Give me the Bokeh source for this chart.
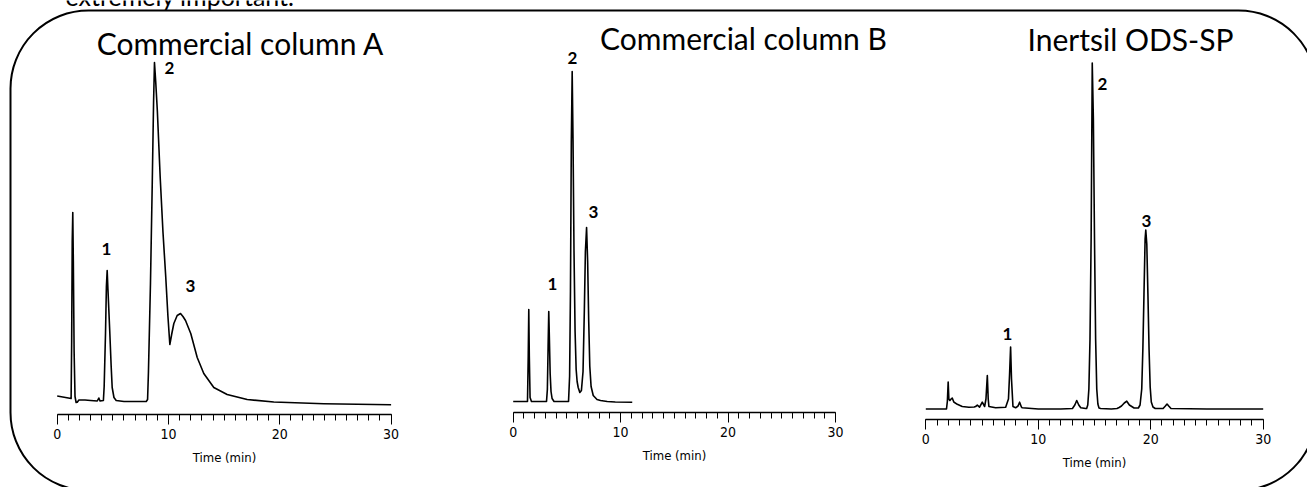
from bokeh.plotting import figure
from bokeh.models import Range1d, LinearAxis, SingleIntervalTicker, BoxAnnotation, ColumnDataSource
from bokeh.core.properties import value
from bokeh.embed import file_html
from bokeh.resources import INLINE

# ---------------- data (time in min, response in arbitrary units) ----------------
# Commercial column A
tA = [0, 0.5, 1.0, 1.25, 1.30, 1.35, 1.40, 1.45, 1.52, 1.60,
      1.70, 1.80, 1.95, 2.5, 3.0, 3.6, 3.74, 3.85, 4.15, 4.22,
      4.34, 4.42, 4.49, 4.56, 4.73, 4.85, 4.94, 5.1, 5.3, 6.0,
      7.0, 8.0, 8.12, 8.2, 8.38, 8.54, 8.66, 8.74, 8.85, 9.0,
      9.25, 9.5, 9.75, 9.95, 10.12, 10.3, 10.48, 10.78, 11.08, 11.3,
      11.53, 12.0, 12.58, 13.17, 14.07, 15.27, 17.07, 19.46, 23.95, 30.0]
sA = [5.5, 4.5, 3.5, 3, 60, 160, 189, 140, 50, 5,
      -1, -0.7, 1.5, 1.5, 1, 0.5, 3.5, 0.5, 1, 15,
      68, 115, 131, 112, 68, 35, 14, 4, 1, 0,
      0, 0, 2, 30, 118, 218, 300, 339, 320, 290,
      225, 170, 125, 85, 57, 68, 78, 86, 88, 85,
      81, 68, 44, 28, 14, 7, 2, -0.5, -2.3, -3.3]

# Commercial column B
tB = [0, 0.5, 1.0, 1.33, 1.40, 1.45, 1.50, 1.57, 1.70, 2.5,
      3.10, 3.18, 3.25, 3.31, 3.37, 3.44, 3.52, 3.62, 3.8, 4.5,
      5.15, 5.25, 5.33, 5.41, 5.49, 5.57, 5.66, 5.76, 5.86, 5.95,
      6.05, 6.2, 6.35, 6.5, 6.62, 6.72, 6.83, 6.93, 7.03, 7.13,
      7.25, 7.45, 7.8, 8.13, 8.75, 9.5, 11.08]
sB = [0, 0, 0, 0, 45, 92, 45, 4, 0, 0,
      0, 12, 55, 90, 62, 28, 10, 3, 0, 0,
      0, 25, 110, 260, 330, 260, 150, 70, 32, 20,
      14, 9, 11, 30, 90, 150, 174, 140, 80, 35,
      15, 6, 2, 1, 0, -0.5, -0.7]

# Inertsil ODS-SP
tC = [0, 1.0, 1.84, 1.92, 1.99, 2.05, 2.14, 2.25, 2.35, 2.49,
      2.80, 3.24, 3.83, 4.3, 4.43, 4.58, 4.78, 5.02, 5.23, 5.35,
      5.47, 5.55, 5.61, 6.21, 7.10, 7.35, 7.45, 7.54, 7.62, 7.75,
      7.99, 8.2, 8.34, 8.5, 8.58, 10.0, 12.0, 13.04, 13.25, 13.42,
      13.6, 13.78, 14.22, 14.30, 14.40, 14.50, 14.60, 14.70, 14.80, 14.90,
      15.00, 15.10, 15.20, 15.30, 15.40, 15.55, 16.5, 17.0, 17.19, 17.4,
      17.65, 17.87, 18.1, 18.52, 18.9, 19.05, 19.2, 19.3, 19.4, 19.5,
      19.56, 19.65, 19.75, 19.85, 19.95, 20.05, 20.2, 20.4, 21.1, 21.3,
      21.45, 21.6, 21.8, 25.0, 30.0]
sC = [0, 0, 0, 8, 27, 10, 8.5, 10, 11, 7,
      4.7, 2.5, 1.8, 2, 2.5, 3.8, 1.8, 6.8, 2.5, 10,
      33.5, 10, 2.5, 1.2, 1.8, 10, 35, 62, 30, 2.5,
      1.2, 3, 6.8, 2, 1.2, 0, 0, 0.5, 4, 8.5,
      4, 1.2, 0.5, 0.5, 4, 20, 70, 170, 346, 290,
      170, 70, 20, 5, 1, 0.5, 0, 0.5, 1.5, 3,
      6, 7.8, 4, 1, 1, 4, 20, 60, 115, 170,
      179, 165, 115, 60, 22, 7, 2, 0.5, 0.5, 3,
      5, 3, 0.5, 0, 0]

titles = ["Commercial column A", "Commercial column B", "Inertsil ODS-SP"]
peak_labels = ["1", "2", "3"]
tick_interval = 10
time_max = 30
axis_label = "Time (min)"
top_text = "extremely important."

# ---------------- layout (pixel placement of each panel) ----------------
W, H = 1307, 487
# (pixel x of t=0, pixel x of t=30, pixel y of axis line, pixel y of baseline)
panels = {
    "A": (56.7, 390.6, 414, 401.0),
    "B": (512.7, 835.0, 412, 401.0),
    "C": (925.3, 1262.7, 419, 408.5),
}
title_pos = [(240, 42), (743, 37), (1130, 38)]
label_pos = {
    "A": [(106, 248), (169, 67), (190, 285)],
    "B": [(552, 283), (572, 57), (593, 211)],
    "C": [(1007, 333), (1102, 83), (1146, 220)],
}

p = figure(width=W, height=H, x_range=Range1d(0, W), y_range=Range1d(H, 0),
           x_axis_location=None, y_axis_location=None, toolbar_location=None,
           output_backend="svg", min_border=0, outline_line_color=None,
           background_fill_color="white", border_fill_color="white")
p.grid.visible = False

# rounded frame
p.add_layout(BoxAnnotation(left=10, right=1316, top=10, bottom=490, border_radius=78,
                           fill_color=None, fill_alpha=0, line_color="black",
                           line_alpha=1.0, line_width=2))

narrow = "Liberation Sans Narrow, Arial Narrow, DejaVu Sans Condensed, sans-serif"

series = {"A": (tA, sA), "B": (tB, sB), "C": (tC, sC)}
for name, (x0, x30, yax, ybase) in panels.items():
    ppm = (x30 - x0) / time_max
    p.extra_x_ranges[name] = Range1d(-x0 / ppm, (W - x0) / ppm)
    p.extra_y_ranges[name] = Range1d(ybase - H, ybase)
    t, s = series[name]
    src = ColumnDataSource(dict(t=t, s=s))
    p.line("t", "s", source=src, x_range_name=name, y_range_name=name,
           line_color="black", line_width=1.6, line_join="round")
    ax = LinearAxis(x_range_name=name, fixed_location=yax, bounds=(0, time_max),
                    ticker=SingleIntervalTicker(interval=tick_interval, num_minor_ticks=10),
                    axis_label=axis_label)
    ax.axis_line_color = "black"
    ax.axis_line_width = 1.5
    ax.major_tick_in = 0
    ax.major_tick_out = 10
    ax.minor_tick_in = 0
    ax.minor_tick_out = 6
    ax.major_tick_line_color = "black"
    ax.minor_tick_line_color = "black"
    ax.major_label_text_font = narrow
    ax.major_label_text_font_size = "14px"
    ax.major_label_text_color = "black"
    ax.major_label_standoff = 4
    ax.axis_label_text_font = narrow
    ax.axis_label_text_font_size = "13px"
    ax.axis_label_text_font_style = "normal"
    ax.axis_label_text_color = "black"
    ax.axis_label_standoff = 8
    p.add_layout(ax, "below")

# titles
p.text(x=[xy[0] for xy in title_pos], y=[xy[1] for xy in title_pos], text=titles,
       text_font=value("Lato"), text_font_size="30px", text_color="black",
       text_align="center", text_baseline="middle")

# peak labels
for name, pos in label_pos.items():
    p.text(x=[xy[0] for xy in pos], y=[xy[1] for xy in pos], text=peak_labels,
           text_font=value("Lato"), text_font_size="17px", text_font_style="bold",
           text_color="black", text_align="center", text_baseline="middle")

# cut-off caption line at the very top (only its lower part is inside the picture)
p.text(x=[65], y=[-5], text=[top_text], text_font=value("Lato"), text_font_size="25px",
       text_color="black", text_align="left", text_baseline="alphabetic")

open("out.html", "w").write(file_html(p, INLINE))
